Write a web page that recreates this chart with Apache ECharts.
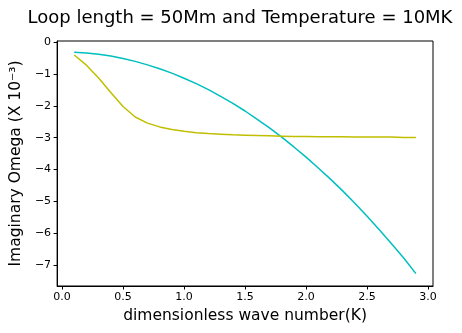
<!DOCTYPE html>
<html>
<head>
<meta charset="utf-8">
<script src="https://cdn.jsdelivr.net/npm/echarts@6/dist/echarts.min.js"></script>
<style>
  html, body { margin: 0; padding: 0; background: #fff; }
  #chart { width: 462px; height: 333px; }
</style>
</head>
<body>
<div id="chart"></div>
<script>
// wave numbers K
const waveNumbers = [0.1, 0.2, 0.3, 0.4, 0.5, 0.6, 0.7, 0.8, 0.9, 1.0,
  1.1, 1.2, 1.3, 1.4, 1.5, 1.6, 1.7, 1.8, 1.9, 2.0,
  2.1, 2.2, 2.3, 2.4, 2.5, 2.6, 2.7, 2.8, 2.9]
// cyan curve
const cyanOmega = [-0.31, -0.34, -0.38, -0.43, -0.51, -0.60, -0.71, -0.83, -0.97, -1.13,
  -1.30, -1.49, -1.70, -1.92, -2.16, -2.42, -2.69, -2.98, -3.29, -3.61,
  -3.95, -4.30, -4.67, -5.06, -5.47, -5.89, -6.33, -6.78, -7.27]
// yellow curve
const yellowOmega = [-0.40, -0.72, -1.12, -1.58, -2.02, -2.35, -2.54, -2.66, -2.74, -2.80,
  -2.84, -2.87, -2.89, -2.91, -2.92, -2.93, -2.94, -2.95, -2.96, -2.96,
  -2.97, -2.97, -2.97, -2.98, -2.98, -2.98, -2.98, -2.99, -2.99]
const xTicks = [0, 0.5, 1.0, 1.5, 2.0, 2.5, 3.0]
const yTicks = [0, -1, -2, -3, -4, -5, -6, -7]

const font = 'DejaVu Sans'
const chart = echarts.init(document.getElementById('chart'))

const pair = (ys) => waveNumbers.map((x, i) => [x, ys[i]])

chart.setOption({
  animation: false,
  title: {
    text: 'Loop length = 50Mm and Temperature = 10MK',
    left: 235,
    textAlign: 'center',
    top: 4,
    textStyle: { fontFamily: font, fontSize: 18, fontWeight: 'normal', color: '#000' }
  },
  grid: {
    left: 55, right: 29, top: 41, bottom: 47,
    show: true, borderColor: '#000', borderWidth: 1, backgroundColor: 'transparent'
  },
  xAxis: {
    type: 'value',
    min: -0.04,
    max: 3.04,
    name: 'dimensionless wave number(K)',
    nameLocation: 'middle',
    nameGap: 20,
    nameTextStyle: { fontFamily: font, fontSize: 15.5, color: '#000', verticalAlign: 'top' },
    axisLine: { show: true, onZero: false, lineStyle: { color: '#000', width: 1 } },
    axisTick: { show: true, length: 3.5, customValues: xTicks, lineStyle: { color: '#000' } },
    axisLabel: {
      customValues: xTicks,
      fontFamily: font, fontSize: 11, color: '#000', margin: 6,
      formatter: (v) => v.toFixed(1)
    },
    splitLine: { show: false }
  },
  yAxis: {
    type: 'value',
    min: -7.66,
    max: 0.04,
    name: 'Imaginary Omega (X 10⁻³)',
    nameLocation: 'middle',
    nameGap: 30,
    nameTextStyle: { fontFamily: font, fontSize: 15.5, color: '#000' },
    axisLine: { show: true, onZero: false, lineStyle: { color: '#000', width: 1 } },
    axisTick: { show: true, length: 3.5, customValues: yTicks, lineStyle: { color: '#000' } },
    axisLabel: {
      customValues: yTicks,
      fontFamily: font, fontSize: 11, color: '#000', margin: 6,
      formatter: (v) => (v < 0 ? '\u2212' + Math.abs(v) : String(v))
    },
    splitLine: { show: false }
  },
  series: [
    {
      type: 'line',
      data: pair(cyanOmega),
      showSymbol: false,
      lineStyle: { color: '#00bfbf', width: 1.5 }
    },
    {
      type: 'line',
      data: pair(yellowOmega),
      showSymbol: false,
      lineStyle: { color: '#bfbf00', width: 1.5 }
    }
  ]
})
</script>
</body>
</html>
